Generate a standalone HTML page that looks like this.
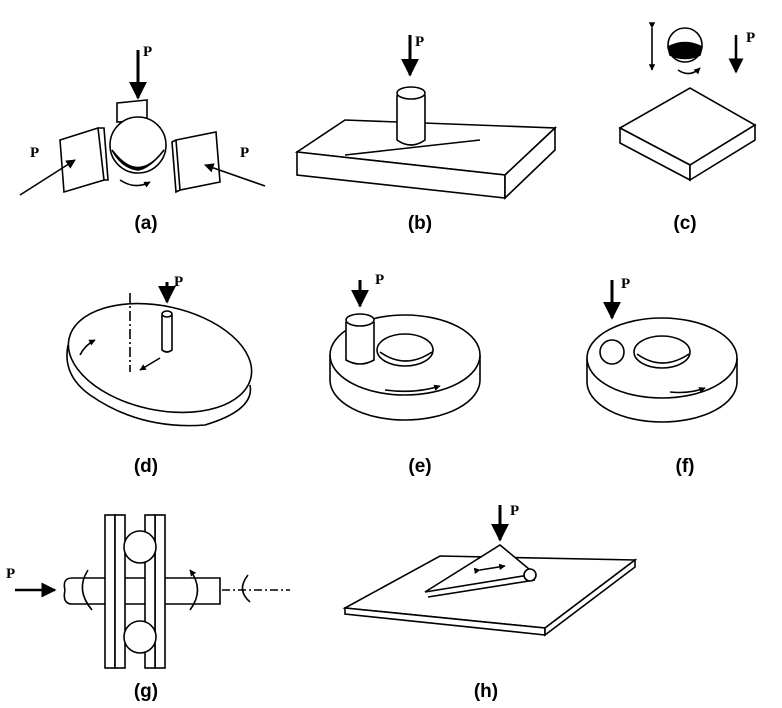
<!DOCTYPE html>
<html><head><meta charset="utf-8"><style>
html,body{margin:0;padding:0;background:#fff;}
svg{display:block}
text{font-family:"Liberation Serif",serif;}
.l text{font-family:"Liberation Sans",sans-serif;font-weight:bold;font-size:19px;}
</style></head><body>
<svg width="782" height="708" viewBox="0 0 782 708" xmlns="http://www.w3.org/2000/svg">
<defs><marker id="ah" viewBox="0 0 10 10" refX="9" refY="5" markerWidth="6" markerHeight="6" orient="auto"><path d="M0,0L10,5L0,10z" fill="#000"/></marker>
<marker id="as" viewBox="0 0 10 10" refX="9" refY="5" markerWidth="4" markerHeight="4" orient="auto"><path d="M0,0L10,5L0,10z" fill="#000"/></marker></defs>
<g fill="none" stroke="#000" stroke-width="1.6">
<!-- (a) -->
<line x1="138" y1="50" x2="138" y2="98" stroke-width="3" marker-end="url(#ah)"/>
<path d="M117,103 L147,100 L147,120 L117,122 Z" fill="#fff"/>
<circle cx="138" cy="145" r="28" fill="#fff"/>
<path d="M112,150 Q138,185 164,150 Q150,168 138,170 Q122,168 112,150Z" fill="#000"/>
<path d="M60,140 L98,128 L104,180 L64,192 Z" fill="#fff"/><path d="M98,128 L104,128 L108,180 L104,180"/>
<path d="M176,140 L216,132 L220,182 L180,190 Z" fill="#fff"/><path d="M176,140 L172,142 L176,192 L180,190"/>
<line x1="20" y1="195" x2="75" y2="160" marker-end="url(#ah)"/>
<line x1="265" y1="186" x2="205" y2="165" marker-end="url(#ah)"/>
<path d="M120,180 Q135,190 150,182" marker-end="url(#as)"/>
<!-- (b) -->
<path d="M297,152 L345,120 L555,128 L505,175 Z" fill="#fff"/>
<path d="M297,152 L505,175 L505,198 L297,175 Z" fill="#fff"/>
<path d="M505,175 L555,128 L555,150 L505,198 Z" fill="#fff"/>
<line x1="345" y1="155" x2="480" y2="140"/>
<path d="M397,95 L397,140 Q411,150 425,140 L425,95" fill="#fff"/>
<ellipse cx="411" cy="93" rx="14" ry="6" fill="#fff"/>
<line x1="410" y1="35" x2="410" y2="75" stroke-width="3" marker-end="url(#ah)"/>
<!-- (c) -->
<path d="M620,128 L690,88 L755,125 L690,165 Z" fill="#fff"/>
<path d="M620,128 L690,165 L690,180 L620,143 Z" fill="#fff"/>
<path d="M690,165 L755,125 L755,140 L690,180 Z" fill="#fff"/>
<circle cx="685" cy="45" r="17" fill="#fff"/>
<path d="M668,47 Q685,38 702,47 L700,55 Q685,62 670,55Z" fill="#000"/>
<line x1="652" y1="28" x2="652" y2="70" marker-start="url(#as)" marker-end="url(#as)"/>
<line x1="736" y1="35" x2="736" y2="72" stroke-width="2.5" marker-end="url(#ah)"/>
<path d="M678,70 Q690,78 700,68" marker-end="url(#as)"/>
<!-- (d) -->
<ellipse cx="160" cy="358" rx="93" ry="52" transform="rotate(12 160 358)" fill="#fff"/>
<path d="M68,345 Q62,375 90,395 Q140,430 205,425 Q255,410 250,385"/>
<line x1="130" y1="293" x2="130" y2="372" stroke-dasharray="10,3,2,3"/>
<path d="M162,315 L162,350 Q167,354 172,350 L172,315" fill="#fff"/><ellipse cx="167" cy="314" rx="5" ry="3" fill="#fff"/>
<line x1="167" y1="282" x2="167" y2="302" stroke-width="3" marker-end="url(#ah)"/>
<line x1="160" y1="358" x2="140" y2="370" marker-end="url(#as)"/>
<path d="M80,355 Q85,345 95,340" marker-end="url(#as)"/>
<!-- (e) -->
<path d="M330,355 L330,380 A75,40 0 0 0 480,380 L480,355" fill="#fff"/>
<ellipse cx="405" cy="355" rx="75" ry="40" fill="#fff"/>
<ellipse cx="405" cy="350" rx="28" ry="16" fill="#fff"/>
<path d="M380,352 Q405,370 432,352"/>
<path d="M346,322 L346,360 Q360,368 374,360 L374,322" fill="#fff"/><ellipse cx="360" cy="320" rx="14" ry="6" fill="#fff"/>
<line x1="360" y1="280" x2="360" y2="306" stroke-width="3" marker-end="url(#ah)"/>
<path d="M385,390 Q415,394 440,386" marker-end="url(#as)"/>
<!-- (f) -->
<path d="M587,358 L587,382 A75,40 0 0 0 737,382 L737,358" fill="#fff"/>
<ellipse cx="662" cy="358" rx="75" ry="40" fill="#fff"/>
<ellipse cx="662" cy="352" rx="28" ry="16" fill="#fff"/>
<path d="M637,354 Q662,372 689,354"/>
<circle cx="612" cy="352" r="12" fill="#fff"/>
<line x1="612" y1="280" x2="612" y2="318" stroke-width="3" marker-end="url(#ah)"/>
<path d="M670,392 Q690,394 705,388" marker-end="url(#as)"/>
<!-- (g) -->
<path d="M65,590 Q62,578 72,578 L220,578 L220,604 L72,604 Q62,604 65,590" fill="#fff"/>
<rect x="105" y="515" width="10" height="153" fill="#fff"/><rect x="115" y="515" width="10" height="153" fill="#fff"/>
<rect x="155" y="515" width="10" height="153" fill="#fff"/><rect x="145" y="515" width="10" height="153" fill="#fff"/>
<circle cx="140" cy="547" r="16" fill="#fff"/><circle cx="140" cy="637" r="16" fill="#fff"/>
<line x1="15" y1="590" x2="55" y2="590" stroke-width="2.5" marker-end="url(#ah)"/>
<line x1="222" y1="590" x2="290" y2="590" stroke-dasharray="8,3,2,3"/>
<path d="M88,570 Q75,590 92,610"/><path d="M190,610 Q205,590 190,570" marker-end="url(#as)"/>
<path d="M248,575 Q236,590 250,602"/>
<!-- (h) -->
<path d="M345,608 L440,556 L635,560 L545,628 Z" fill="#fff"/>
<path d="M345,608 L545,628 L545,635 L345,614 Z" fill="#fff"/>
<path d="M545,628 L635,560 L635,567 L545,635Z" fill="#fff"/>
<path d="M425,592 L500,545 L535,574 Z" fill="#fff"/>
<path d="M428,597 L535,580" />
<circle cx="530" cy="575" r="6" fill="#fff"/>
<line x1="500" y1="505" x2="500" y2="540" stroke-width="3" marker-end="url(#ah)"/>
<line x1="480" y1="570" x2="505" y2="566" marker-start="url(#as)" marker-end="url(#as)"/>
</g>
<g font-size="15" font-weight="bold">
<text x="143" y="56">P</text><text x="30" y="157">P</text><text x="240" y="157">P</text>
<text x="415" y="46">P</text><text x="746" y="42">P</text>
<text x="174" y="286">P</text><text x="375" y="284">P</text><text x="621" y="288">P</text>
<text x="6" y="578">P</text><text x="510" y="515">P</text>
</g>
<g class="l" text-anchor="middle">
<text x="146" y="229">(a)</text><text x="420" y="229">(b)</text><text x="685" y="229">(c)</text>
<text x="146" y="472">(d)</text><text x="420" y="472">(e)</text><text x="685" y="472">(f)</text>
<text x="146" y="697">(g)</text><text x="486" y="697">(h)</text>
</g>
</svg>
</body></html>
